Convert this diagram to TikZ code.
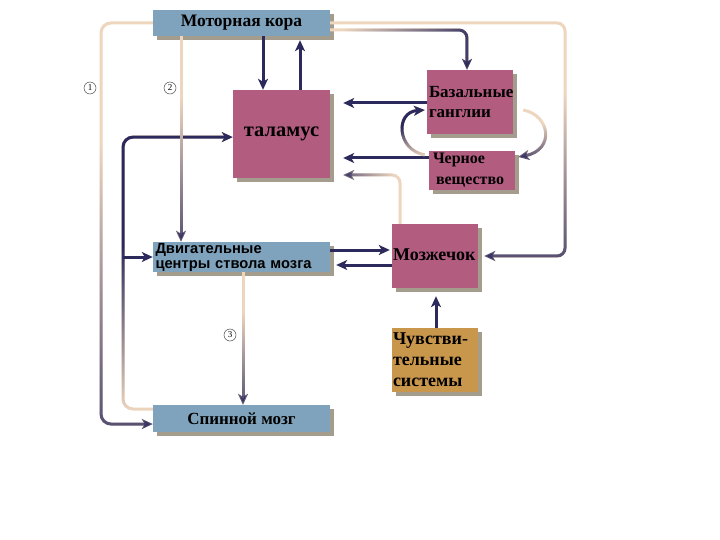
\documentclass[tikz,border=0pt]{standalone}
\usepackage{fontspec}
\setmainfont{Liberation Serif}
\newfontfamily\sansf{Liberation Sans}
\usetikzlibrary{arrows.meta,shadows,fadings}

\definecolor{bluebox}{HTML}{7FA3BC}
\definecolor{pinkbox}{HTML}{B25C80}
\definecolor{orangebox}{HTML}{C9974C}
\definecolor{darkline}{HTML}{2C2A5C}
\definecolor{lightline}{HTML}{EED6BE}
\definecolor{shadowc}{HTML}{8E8470}

\pgfdeclareverticalshading{shup}{100bp}{color(0bp)=(white); color(15bp)=(white); color(60bp)=(black); color(100bp)=(black)}
\pgfdeclarefading{darkbottom}{\pgfuseshading{shup}}
\pgfdeclareverticalshading{shdown}{100bp}{color(0bp)=(black); color(25bp)=(black); color(55bp)=(white); color(100bp)=(white)}
\pgfdeclarefading{darktop}{\pgfuseshading{shdown}}
\pgfdeclarehorizontalshading{shright}{100bp}{color(0bp)=(black); color(30bp)=(black); color(80bp)=(white); color(100bp)=(white)}
\pgfdeclarefading{darkright}{\pgfuseshading{shright}}
\pgfdeclarehorizontalshading{shleft}{100bp}{color(0bp)=(white); color(20bp)=(white); color(70bp)=(black); color(100bp)=(black)}
\pgfdeclarefading{darkleft}{\pgfuseshading{shleft}}

\tikzset{
  box/.style={draw=none, inner sep=3pt,
    drop shadow={shadow xshift=4pt, shadow yshift=-4pt, fill=shadowc, opacity=0.8}},
  conn/.style={draw=darkline, line width=3pt, -{Stealth[length=11pt,width=10pt,inset=3pt]}},
  grad/.style={conn, draw=lightline, postaction={draw=darkline, path fading=#1}},
  circ/.style={circle, draw=black!70, line width=0.5pt, inner sep=0pt, minimum size=12pt,
    font=\fontsize{9}{9}\selectfont},
}

\begin{document}
\begin{tikzpicture}[x=1pt, y=-1pt]
\useasboundingbox (0,0) rectangle (720,540);
\fill[white] (0,0) rectangle (720,540);

% boxes
\node[box, fill=bluebox, minimum width=177pt, minimum height=26pt,
  font=\fontsize{17.5}{19}\selectfont\bfseries] (kora) at (241.5,23) {Моторная кора};
\node[box, fill=pinkbox, minimum width=97pt, minimum height=88pt,
  font=\fontsize{20.5}{22}\selectfont\bfseries] (thal) at (281.5,134) {\raisebox{4pt}{таламус}};
\node[box, fill=pinkbox, minimum width=86pt, minimum height=64pt, text width=82pt,
  align=left, inner sep=2pt, font=\fontsize{17}{19.5}\selectfont\bfseries] (bg) at (470,102) {Базальные\\ганглии};
\node[box, fill=pinkbox, minimum width=86pt, minimum height=39pt, text width=78pt,
  align=left, inner sep=1pt, font=\fontsize{16}{21}\selectfont\bfseries] (sn) at (472,170.5) {Черное\\\hspace*{3pt}вещество};
\node[box, fill=pinkbox, minimum width=86pt, minimum height=64pt, text width=84pt,
  align=left, inner sep=1pt, font=\fontsize{18}{20}\selectfont\bfseries] (cb) at (435,256) {\raisebox{3pt}{Мозжечок}};
\node[box, fill=orangebox, minimum width=86pt, minimum height=64pt, text width=84pt,
  align=left, inner sep=1pt, font=\fontsize{18}{21}\selectfont\bfseries] (ss) at (435,360) {Чувстви-\\тельные\\системы};
\node[box, fill=bluebox, minimum width=177pt, minimum height=28pt, text width=172pt,
  align=left, inner sep=1pt, font=\sansf\fontsize{14.7}{15}\selectfont\bfseries] (dv) at (241.5,257)
  {Двигательные\\центры ствола мозга};
\node[box, fill=bluebox, minimum width=177pt, minimum height=27pt,
  font=\fontsize{17}{19}\selectfont\bfseries] (sc) at (241.5,418.5) {Спинной мозг};

% helper coordinates
\coordinate (xa) at (263,0);
\coordinate (xb) at (300,0);
\coordinate (x2) at (181,0);
\coordinate (x3) at (243,0);
\coordinate (xo) at (101,0);
\coordinate (xi) at (123,0);
\coordinate (xr) at (565,0);
\coordinate (xbg) at (467,0);
\coordinate (xcb) at (400,0);
\coordinate (xss) at (436,0);
\coordinate (ykb) at (0,30);
\coordinate (yo) at (0,424);
\coordinate (yi) at (0,409);
\coordinate (yth) at (0,137);
\coordinate (y103) at (0,103);
\coordinate (y158) at (0,158);
\coordinate (y175) at (0,175);
\coordinate (y250) at (0,250);
\coordinate (y265) at (0,265);

% cortex <-> thalamus
\draw[conn] (kora.south -| xa) -- (thal.north -| xa);
\draw[conn, shorten >=4pt] (thal.north -| xb) -- (kora.south -| xb);

% cortex -> basal ganglia
\draw[grad=darkright, rounded corners=8pt] (kora.east |- ykb) -- (xbg |- ykb) -- (bg.north -| xbg);

% cortex -> cerebellum (outer right)
\draw[grad=darkbottom, rounded corners=8pt, shorten >=6pt] (kora.east) -- (kora.east -| xr) -- (xr |- cb.east) -- (cb.east);

% (1) cortex -> spinal cord
\draw[grad=darkbottom, rounded corners=10pt] (kora.west) -- (kora.west -| xo) -- (xo |- yo) -- (sc.west |- yo);

% spinal cord -> thalamus, brainstem
\draw[grad=darktop, rounded corners=10pt] (sc.west |- yi) -- (xi |- yi) -- (xi |- yth) -- (thal.west |- yth);
\draw[conn] (xi |- dv.west) -- (dv.west);

% (2) cortex -> brainstem centres
\draw[grad=darkbottom] ([xshift=3pt]kora.south -| x2) (kora.south -| x2) -- (dv.north -| x2);
% (3) brainstem -> spinal cord
\draw[grad=darkbottom] ([xshift=3pt]dv.south -| x3) (dv.south -| x3) -- (sc.north -| x3);

% basal ganglia / substantia nigra -> thalamus
\draw[conn, shorten >=13pt] (bg.west |- y103) -- (thal.east |- y103);
\draw[conn, shorten >=13pt] (sn.west |- y158) -- (thal.east |- y158);
% cerebellum -> thalamus
\draw[grad=darkleft, rounded corners=8pt, shorten >=13pt] (cb.north -| xcb) -- (xcb |- y175) -- (thal.east |- y175);

% loops between basal ganglia and substantia nigra
\draw[grad=darkbottom] ([shift={(10,8)}]bg.east) .. controls +(27,5) and +(37,-7) .. ([shift={(3,-13.5)}]sn.east);
\draw[grad=darktop] ([shift={(-4,-15.5)}]sn.west) .. controls +(-28,-5) and +(-30,2) .. ([shift={(-2,8)}]bg.west);

% brainstem <-> cerebellum
\draw[conn, shorten >=2pt] (dv.east |- y250) -- (cb.west |- y250);
\draw[conn, shorten >=6pt] (cb.west |- y265) -- (dv.east |- y265);

% sensory -> cerebellum
\draw[conn, shorten >=8pt] (ss.north -| xss) -- (cb.south -| xss);

% circled numbers
\node[circ] (n1) at (90,88) {1};
\node[circ] (n2) at (170,88) {2};
\node[circ] (n3) at (230,335) {3};
\end{tikzpicture}
\end{document}
